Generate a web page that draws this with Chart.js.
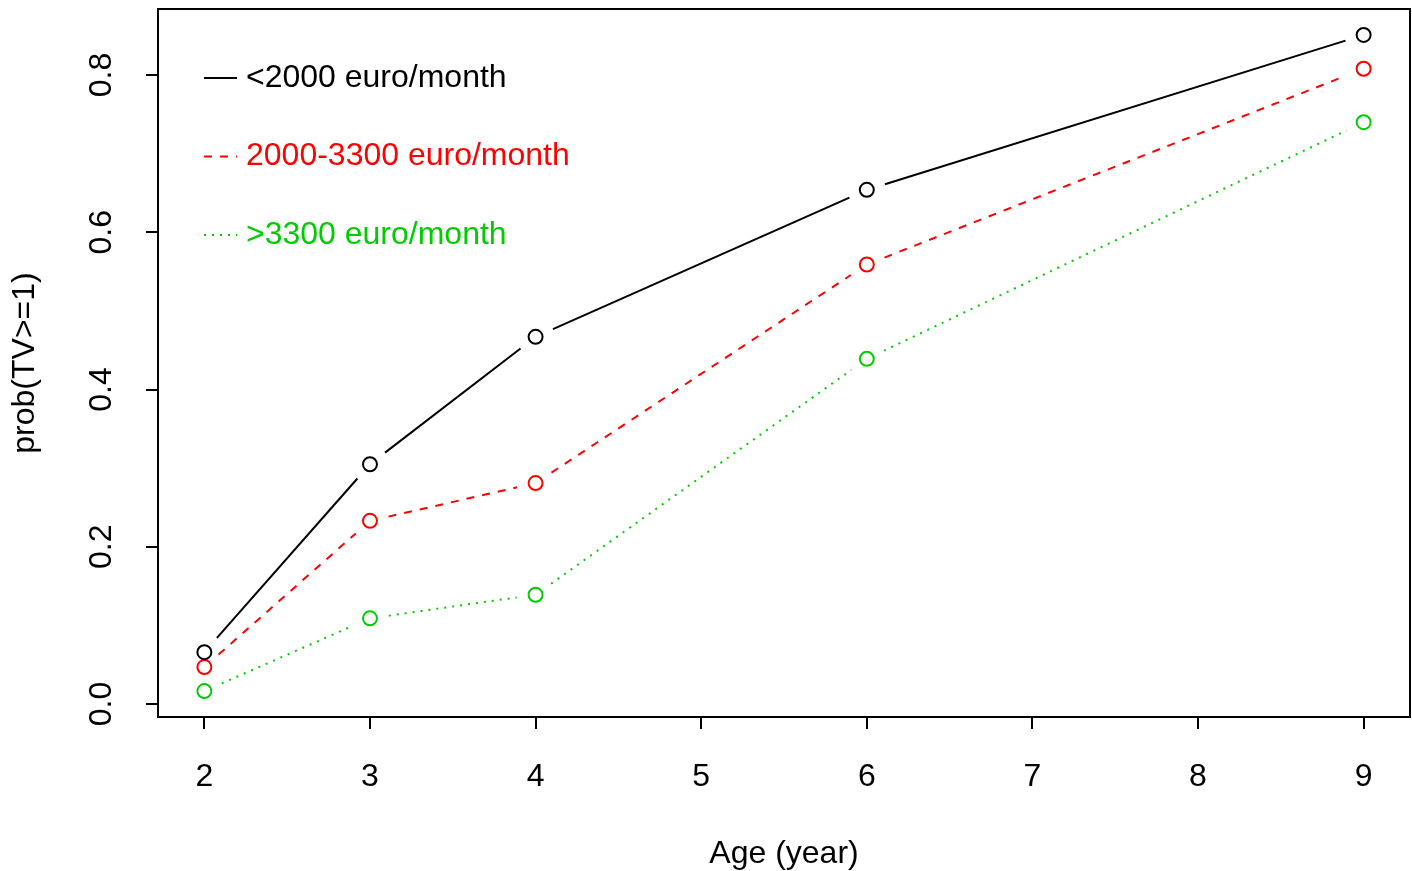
<!DOCTYPE html>
<html>
<head>
<meta charset="utf-8">
<script src="https://cdn.jsdelivr.net/npm/chart.js@4/dist/chart.umd.min.js"></script>
<style>
  html, body { margin: 0; padding: 0; background: #fff; }
  canvas { display: block; }
</style>
</head>
<body>
<canvas id="chart" width="1412" height="871"></canvas>
<script>
/* global Chart */

const ages = [2, 3, 4, 6, 9];
const lowIncome = [0.066, 0.305, 0.467, 0.654, 0.851];
const midIncome = [0.047, 0.233, 0.281, 0.559, 0.808];
const highIncome = [0.0165, 0.109, 0.139, 0.439, 0.740];
const seriesNames = ["<2000 euro/month", "2000-3300 euro/month", ">3300 euro/month"];
const xTicks = [2, 3, 4, 5, 6, 7, 8, 9];
const yTicks = [0, 0.2, 0.4, 0.6, 0.8];

const FONT = "'Liberation Sans', Arial, sans-serif";
const colors = ["#000000", "#ff0000", "#00cd00"];
const dashes = [[], [8, 8], [2, 6]];

function toPoints(ys) {
  return ages.map((a, i) => ({ x: a, y: ys[i] }));
}

function makeSet(label, ys, i) {
  return {
    label,
    data: toPoints(ys),
    showLine: false,
    borderColor: colors[i],
    backgroundColor: "rgba(0,0,0,0)",
    pointStyle: "circle",
    pointRadius: 7,
    pointBorderWidth: 2,
    pointBorderColor: colors[i],
    pointBackgroundColor: "rgba(0,0,0,0)",
    lty: dashes[i],
  };
}

/* R type="b": segments stop short of each point */
const gappedLines = {
  id: "gappedLines",
  beforeDatasetsDraw(chart) {
    const ctx = chart.ctx;
    const gap = 19;
    chart.data.datasets.forEach((ds, i) => {
      const pts = chart.getDatasetMeta(i).data;
      ctx.save();
      ctx.strokeStyle = ds.borderColor;
      ctx.lineWidth = 2;
      ctx.lineCap = "butt";
      ctx.setLineDash(ds.lty);
      for (let k = 0; k < pts.length - 1; k++) {
        const a = pts[k], b = pts[k + 1];
        const dx = b.x - a.x, dy = b.y - a.y;
        const len = Math.hypot(dx, dy);
        if (len <= 2 * gap) continue;
        const ux = dx / len, uy = dy / len;
        ctx.beginPath();
        ctx.moveTo(a.x + ux * gap, a.y + uy * gap);
        ctx.lineTo(b.x - ux * gap, b.y - uy * gap);
        ctx.stroke();
      }
      ctx.restore();
    });
  },
};

const boxAndLabels = {
  id: "boxAndLabels",
  afterDraw(chart) {
    const { ctx, chartArea: ca } = chart;
    const ys = chart.scales.y;
    ctx.save();
    ctx.strokeStyle = "#000";
    ctx.lineWidth = 2;
    ctx.setLineDash([]);
    ctx.strokeRect(ca.left, ca.top, ca.right - ca.left, ca.bottom - ca.top);

    // rotated y tick labels
    ctx.fillStyle = "#000";
    ctx.font = `32px ${FONT}`;
    ctx.textAlign = "center";
    ctx.textBaseline = "middle";
    yTicks.forEach((v) => {
      ctx.save();
      ctx.translate(ca.left - 56, ys.getPixelForValue(v));
      ctx.rotate(-Math.PI / 2);
      ctx.fillText(v.toFixed(1), 0, 0);
      ctx.restore();
    });

    // legend (no box)
    ctx.textAlign = "left";
    seriesNames.forEach((name, i) => {
      const y = ca.top + 69 + i * 78.5;
      ctx.strokeStyle = colors[i];
      ctx.setLineDash(dashes[i]);
      ctx.beginPath();
      ctx.moveTo(ca.left + 46, y);
      ctx.lineTo(ca.left + 79, y);
      ctx.stroke();
      ctx.fillStyle = colors[i];
      ctx.fillText(name, ca.left + 88, y);
    });
    ctx.restore();
  },
};

new Chart(document.getElementById("chart"), {
  type: "line",
  data: {
    datasets: [
      makeSet(seriesNames[0], lowIncome, 0),
      makeSet(seriesNames[1], midIncome, 1),
      makeSet(seriesNames[2], highIncome, 2),
    ],
  },
  plugins: [gappedLines, boxAndLabels],
  options: {
    responsive: false,
    animation: false,
    devicePixelRatio: 1,
    layout: { autoPadding: false, padding: { top: 9, right: 2, left: 0, bottom: 0 } },
    plugins: { legend: { display: false }, tooltip: { enabled: false } },
    scales: {
      x: {
        type: "linear",
        min: 1.72,
        max: 9.28,
        afterBuildTicks: (s) => { s.ticks = xTicks.map((v) => ({ value: v })); },
        afterFit: (s) => { s.height = 154; s.paddingLeft = 0; s.paddingRight = 0; },
        grid: { drawOnChartArea: false, drawTicks: true, tickLength: 12, color: "#000", lineWidth: 2 },
        border: { display: false },
        ticks: { color: "#000", font: { family: FONT, size: 32 }, padding: 29, maxRotation: 0 },
        title: { display: true, text: "Age (year)", color: "#000", font: { family: FONT, size: 32 }, padding: { top: 0, bottom: -2 } },
      },
      y: {
        type: "linear",
        min: -0.0165,
        max: 0.884,
        afterBuildTicks: (s) => { s.ticks = yTicks.map((v) => ({ value: v })); },
        afterFit: (s) => { s.width = 158; s.paddingTop = 0; s.paddingBottom = 0; },
        grid: { drawOnChartArea: false, drawTicks: true, tickLength: 12, color: "#000", lineWidth: 2 },
        border: { display: false },
        ticks: { display: false },
        title: { display: true, text: "prob(TV>=1)", color: "#000", font: { family: FONT, size: 32 }, padding: { top: 6, bottom: 0 } },
      },
    },
  },
});
</script>
</body>
</html>
